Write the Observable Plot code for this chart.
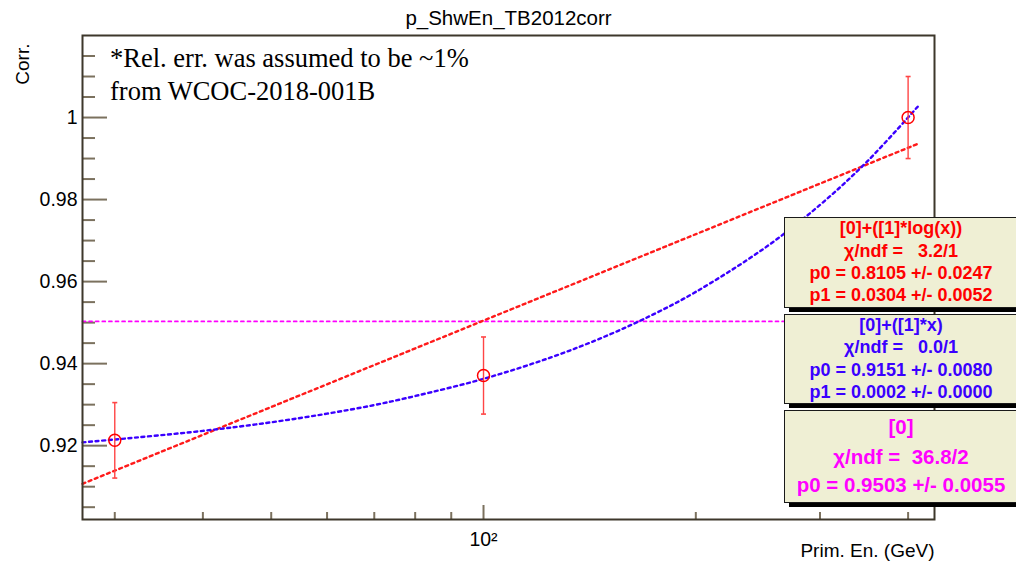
<!DOCTYPE html>
<html><head><meta charset="utf-8">
<script src="https://cdn.jsdelivr.net/npm/d3@7"></script>
<script src="https://cdn.jsdelivr.net/npm/@observablehq/plot@0.6"></script>
<style>
html,body{margin:0;padding:0;background:#fff;overflow:hidden}
#wrap{position:relative;width:1016px;height:563px;overflow:hidden;font-family:"Liberation Sans",Arial,Helvetica,sans-serif}
.box{position:absolute;left:784px;width:250px;background:#efefd4;border:1px solid #1a1a1a;box-shadow:5px 4px 0 #000;box-sizing:border-box;font-weight:bold}
.ln{position:absolute;left:0;width:232px;text-align:center;white-space:pre;height:24px;line-height:24px}
.note{position:absolute;left:110px;font-family:"Liberation Serif","Times New Roman",serif;font-size:26.5px;color:#000;white-space:pre;line-height:26.5px}
</style></head>
<body><div id="wrap"></div>
<script>
// ---- data ----
const energies = [30, 100, 400];            // Prim. En. (GeV)
const corr     = [0.9213, 0.9371, 1.0000];  // Corr.
const corrErr  = [0.0092, 0.0094, 0.0100];

// fit curves
const logFitX = [27, 413];
const logFitY = [0.9107, 0.9936];
const linFitX = [27, 30, 40, 50, 60, 70, 80, 100, 125, 150, 175, 200, 250, 300, 350, 413];
const linFitY = [0.9208, 0.9215, 0.9236, 0.9257, 0.9278, 0.9299, 0.9321, 0.9363, 0.9416, 0.9469, 0.9522, 0.9575, 0.9681, 0.9787, 0.9893, 1.0027];
const constFitX = [27, 436];
const constFitY = [0.9503, 0.9503];

// axes
const xDomain = [27, 436];
const yDomain = [0.902, 1.02];
const xMajor = [100];
const xMinor = [30, 40, 50, 60, 70, 80, 90, 200, 300, 400];
const yMajor = [0.92, 0.94, 0.96, 0.98, 1.0];
const yMinor = [0.905, 0.91, 0.915, 0.925, 0.93, 0.935, 0.945, 0.95, 0.955, 0.965, 0.97, 0.975, 0.985, 0.99, 0.995, 1.005, 1.01, 1.015];
const yLabels = ["0.92", "0.94", "0.96", "0.98", "1"];

// stats boxes
const statBoxes = [
  {color: "#ff0000", size: 18, lines: ["[0]+([1]*log(x))", "χ/ndf =   3.2/1", "p0 = 0.8105 +/- 0.0247", "p1 = 0.0304 +/- 0.0052"]},
  {color: "#3a00ff", size: 18, lines: ["[0]+([1]*x)", "χ/ndf =   0.0/1", "p0 = 0.9151 +/- 0.0080", "p1 = 0.0002 +/- 0.0000"]},
  {color: "#ff00ff", size: 20.5, lines: ["[0]", "χ/ndf =  36.8/2", "p0 = 0.9503 +/- 0.0055"]}
];
const noteLines = ["*Rel. err. was assumed to be ~1%", "from WCOC-2018-001B"];

// ---- tables ----
const points = energies.map((x, i) => ({x, y: corr[i], lo: corr[i] - corrErr[i], hi: corr[i] + corrErr[i]}));
const caps = points.flatMap(p => [{x: p.x, y: p.lo}, {x: p.x, y: p.hi}]);
const logFit = logFitX.map((x, i) => ({x, y: logFitY[i]}));
const linFit = linFitX.map((x, i) => ({x, y: linFitY[i]}));
const constFit = constFitX.map((x, i) => ({x, y: constFitY[i]}));

const font = "Liberation Sans, Arial, Helvetica, sans-serif";
const tickCol = "#7b715e";
const dots = "3,3.6";
const capSymbol = {draw(ctx, size) { const r = Math.sqrt(size / Math.PI); ctx.moveTo(-r, 0); ctx.lineTo(r, 0); }};

const chart = Plot.plot({
  width: 1016, height: 563,
  marginTop: 35, marginBottom: 44, marginLeft: 82, marginRight: 82,
  style: {fontFamily: font, background: "white", color: "#000"},
  x: {type: "log", domain: xDomain},
  y: {domain: yDomain},
  marks: [
    Plot.axisY(yMinor, {tickSize: -13, tickFormat: () => "", stroke: tickCol, strokeWidth: 2, label: null}),
    Plot.axisY(yMajor, {tickSize: -25, tickFormat: () => "", stroke: tickCol, strokeWidth: 2, label: null}),
    Plot.axisY(yMajor, {tickSize: 0, tickPadding: 5, tickFormat: (d, i) => yLabels[i], fontSize: 19.5, fill: "#000", label: null}),
    Plot.axisX(xMinor, {tickSize: -7, tickFormat: () => "", stroke: tickCol, strokeWidth: 2, label: null}),
    Plot.axisX(xMajor, {tickSize: -14, tickFormat: () => "", stroke: tickCol, strokeWidth: 2, label: null}),
    Plot.axisX(xMajor, {tickSize: 0, tickPadding: 13, tickFormat: () => "10²", fontSize: 19.5, fill: "#000", label: null}),
    Plot.line(constFit, {x: "x", y: "y", stroke: "#ff00ff", strokeWidth: 1.7, strokeDasharray: dots}),
    Plot.line(logFit, {x: "x", y: "y", stroke: "#ff1a1a", strokeWidth: 2.4, strokeDasharray: dots}),
    Plot.line(linFit, {x: "x", y: "y", stroke: "#3a00ff", strokeWidth: 2.4, strokeDasharray: dots, curve: "catmull-rom"}),
    Plot.link(points, {x1: "x", x2: "x", y1: "lo", y2: "hi", stroke: "#ff4545", strokeWidth: 1.4}),
    Plot.dot(caps, {x: "x", y: "y", symbol: capSymbol, r: 2.5, stroke: "#ff4545", strokeWidth: 1.6, fill: "none"}),
    Plot.dot(points, {x: "x", y: "y", r: 6, stroke: "#ff0000", strokeWidth: 1.5, fill: "none"}),
    Plot.frame({stroke: "#3d372b", strokeWidth: 2}),
    Plot.text(["p_ShwEn_TB2012corr"], {frameAnchor: "top", dy: -17, fontSize: 20.5, fill: "#000", lineAnchor: "middle"}),
    Plot.text(["Prim. En. (GeV)"], {frameAnchor: "bottom-right", dy: 31, fontSize: 19, fill: "#000", textAnchor: "end", lineAnchor: "middle"}),
    Plot.text(["Corr."], {frameAnchor: "top-left", dx: -60, dy: 8, rotate: -90, fontSize: 19, fill: "#000", textAnchor: "end", lineAnchor: "middle"})
  ]
});
const wrap = document.getElementById("wrap");
wrap.appendChild(chart);

// note
[45, 78].forEach((top, i) => {
  const n = document.createElement("div");
  n.className = "note";
  n.style.top = top + "px";
  n.textContent = noteLines[i];
  wrap.appendChild(n);
});

// stat boxes
const boxGeom = [
  {top: 217, height: 91, centers: [228, 251, 273, 295]},
  {top: 314, height: 90, centers: [325, 347, 370, 392]},
  {top: 410, height: 93, centers: [427, 457, 485]}
];
statBoxes.forEach((b, k) => {
  const g = boxGeom[k];
  const el = document.createElement("div");
  el.className = "box";
  el.style.top = g.top + "px";
  el.style.height = g.height + "px";
  el.style.color = b.color;
  el.style.fontSize = b.size + "px";
  b.lines.forEach((t, i) => {
    const l = document.createElement("div");
    l.className = "ln";
    l.style.top = (g.centers[i] - g.top - 13) + "px";
    l.textContent = t;
    el.appendChild(l);
  });
  wrap.appendChild(el);
});
</script>
</body></html>
